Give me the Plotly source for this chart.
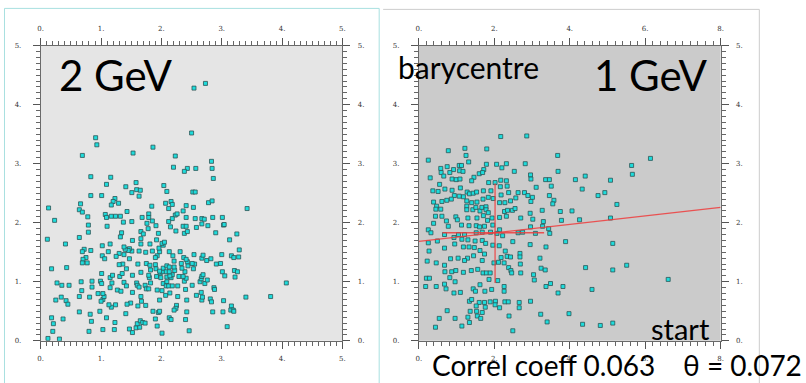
import plotly.graph_objects as go

W, H = 806, 383

# ---------------- data: 2 GeV panel ----------------
left_x = [
    2.54, 2.73, 2.50, 0.91, 0.93, 0.69, 1.53, 1.86, 2.23, 2.83,
    2.20, 2.43, 2.57, 2.38, 2.84, 0.83, 1.16, 2.86, 1.09, 1.58,
    1.41, 1.51, 1.59, 1.65, 1.63, 2.04, 2.09, 2.52, 2.56, 0.83,
    1.01, 1.23, 1.20, 1.29, 1.17, 0.66, 0.64, 0.69, 0.13, 0.23,
    0.11, 0.41, 0.18, 0.43, 0.27, 0.35, 0.47, 0.25, 0.34, 0.42,
    0.45, 0.18, 0.21, 0.20, 0.37, 0.12, 0.31, 1.84, 2.07, 2.16,
    2.18, 2.12, 2.41, 2.53, 2.78, 2.84, 3.42, 0.78, 0.79, 0.79,
    0.64, 1.07, 1.09, 1.17, 1.24, 1.32, 1.37, 1.43, 1.51, 1.10,
    1.68, 1.79, 1.79, 1.76, 1.78, 1.85, 1.91, 2.23, 2.26, 2.36,
    2.41, 2.18, 2.12, 2.15, 2.24, 2.36, 2.41, 2.38, 2.43, 2.58,
    2.56, 2.67, 2.71, 2.67, 2.77, 2.85, 3.01, 3.03, 3.04, 2.90,
    3.25, 3.13, 3.29, 3.00, 3.16, 3.20, 3.28, 2.91, 2.98, 3.21,
    3.26, 3.01, 3.05, 3.22, 4.07, 2.87, 2.88, 3.40, 3.81, 3.03,
    3.16, 3.15, 3.19, 3.20, 3.02, 2.85, 3.09, 2.81, 2.83, 2.67,
    2.68, 2.58, 2.66, 2.42, 2.27, 2.25, 2.24, 2.21, 2.42, 2.40,
    2.46, 2.13, 2.16, 2.01, 1.93, 1.90, 1.86, 1.95, 1.97, 1.97,
    2.07, 2.14, 1.74, 1.67, 1.66, 1.61, 1.52, 1.49, 1.43, 1.41,
    1.24, 1.17, 1.13, 1.03, 1.00, 1.05, 1.03, 0.95, 0.81, 0.64,
    0.64, 0.98, 0.82, 0.84, 0.80, 1.03, 1.22, 1.23, 1.09, 1.47,
    1.52, 1.58, 1.64, 1.60, 1.65, 1.69, 1.73, 0.67, 0.68, 0.85,
    0.85, 0.99, 1.01, 1.01, 1.15, 1.18, 1.15, 1.27, 1.33, 1.38,
    1.42, 1.31, 1.35, 1.52, 1.59, 1.60, 1.63, 1.73, 1.75, 1.79,
    1.82, 1.80, 1.79, 1.66, 1.92, 1.93, 2.01, 2.03, 1.99, 1.98,
    2.02, 2.03, 2.09, 2.08, 2.09, 2.09, 2.08, 2.12, 2.16, 2.18,
    2.18, 2.14, 2.22, 2.29, 2.27, 2.38, 2.41, 2.40, 2.39, 2.34,
    2.44, 2.43, 2.55, 2.53, 2.51, 2.64, 2.66, 2.67, 2.69, 2.72,
    2.76, 2.54, 2.67, 2.69, 2.75, 2.82, 2.31, 2.19, 2.21, 2.37,
    2.41, 2.33, 2.13, 1.97, 1.93, 1.90, 1.85, 1.96, 2.03, 2.01,
    2.05, 1.92, 1.95, 1.81, 1.66, 1.70, 1.66, 1.66, 1.52, 1.51,
    1.47, 1.45, 1.40, 1.38, 1.30, 1.25, 1.38, 1.47, 1.63, 1.74,
    1.34, 1.32, 1.15, 1.02, 1.12, 1.02, 1.06, 0.72, 0.69, 0.83,
    0.75, 0.70, 0.69, 0.77, 1.36, 1.42, 1.30, 1.19, 1.61, 1.75,
    1.81, 1.90, 1.91, 1.82, 1.97, 2.13, 2.13, 2.21, 2.36, 2.51,
]
left_y = [
    4.28, 4.36, 3.52, 3.44, 3.32, 3.14, 3.18, 3.28, 3.13, 3.04,
    2.94, 2.92, 2.92, 2.87, 2.92, 2.78, 2.77, 2.75, 2.65, 2.68,
    2.61, 2.51, 2.56, 2.55, 2.45, 2.63, 2.53, 2.52, 2.52, 2.46,
    2.46, 2.41, 2.36, 2.33, 2.30, 2.32, 2.22, 2.18, 2.25, 2.04,
    1.72, 1.64, 1.22, 1.24, 0.98, 0.94, 0.94, 0.69, 0.74, 0.68,
    0.62, 0.39, 0.29, 0.16, 0.37, 0.04, 0.03, 2.28, 2.33, 2.36,
    2.31, 2.24, 2.29, 2.26, 2.34, 2.37, 2.24, 2.10, 1.96, 1.84,
    1.75, 2.14, 2.09, 2.11, 2.11, 2.11, 2.01, 2.19, 2.02, 1.94,
    2.09, 2.15, 2.09, 1.99, 1.90, 2.03, 1.95, 2.13, 2.15, 2.20,
    2.09, 2.07, 2.02, 1.93, 1.86, 1.94, 1.94, 1.82, 1.85, 1.92,
    2.07, 2.07, 2.06, 1.98, 1.95, 2.09, 2.09, 1.96, 1.97, 1.83,
    1.81, 1.71, 1.54, 1.46, 1.44, 1.41, 1.42, 1.30, 1.31, 1.19,
    1.17, 1.17, 1.10, 1.08, 0.98, 0.90, 0.87, 0.74, 0.75, 0.68,
    0.59, 0.52, 0.52, 0.50, 0.49, 0.49, 0.24, 0.71, 0.66, 0.69,
    0.74, 0.77, 0.82, 0.69, 0.75, 0.60, 0.55, 0.52, 0.49, 0.36,
    0.17, 0.39, 0.36, 0.13, 0.25, 0.37, 0.50, 0.48, 0.50, 0.69,
    0.77, 0.81, 0.60, 0.67, 0.75, 0.59, 0.82, 0.64, 0.62, 0.46,
    0.61, 0.57, 0.61, 0.70, 0.67, 0.75, 0.80, 0.80, 0.74, 0.75,
    0.49, 0.50, 0.45, 0.33, 0.16, 0.19, 0.19, 0.31, 0.39, 0.20,
    0.14, 0.22, 0.23, 0.29, 0.34, 0.31, 0.30, 1.00, 0.85, 1.01,
    0.91, 1.01, 0.97, 1.14, 1.07, 0.98, 0.90, 0.86, 0.84, 0.99,
    0.93, 1.09, 1.14, 1.11, 0.98, 0.94, 0.91, 0.94, 0.88, 0.88,
    0.98, 1.07, 1.11, 1.16, 1.09, 0.86, 0.85, 0.97, 1.07, 1.15,
    1.17, 1.23, 1.27, 1.17, 1.08, 1.00, 0.93, 0.93, 1.07, 1.12,
    0.93, 1.10, 1.19, 1.09, 0.93, 1.01, 1.06, 0.87, 1.17, 1.23,
    1.27, 1.34, 1.30, 1.22, 0.94, 1.00, 1.05, 1.09, 1.12, 0.97,
    1.03, 1.46, 1.40, 1.45, 1.36, 1.39, 1.51, 1.44, 1.35, 1.41,
    1.38, 1.31, 1.51, 1.51, 1.44, 1.41, 1.52, 1.57, 1.62, 1.65,
    1.67, 1.71, 1.82, 1.64, 1.85, 1.81, 1.73, 1.64, 1.70, 1.52,
    1.56, 1.53, 1.55, 1.59, 1.48, 1.43, 1.46, 1.39, 1.52, 1.50,
    1.83, 1.76, 1.64, 1.61, 1.51, 1.44, 1.39, 1.55, 1.51, 1.53,
    1.41, 1.38, 1.32, 1.32, 1.30, 1.22, 1.29, 1.11, 1.30, 1.31,
    1.28, 1.29, 1.22, 1.20, 1.18, 1.17, 1.25, 1.25, 1.09, 1.31,
]

# ---------------- data: 1 GeV panel ----------------
right_x = [
    2.17, 2.86, 1.22, 0.78, 1.25, 1.80, 3.68, 6.14, 0.25, 1.32,
    1.79, 2.06, 2.32, 2.82, 5.64, 0.58, 0.75, 0.92, 1.07, 1.13,
    1.08, 1.17, 0.59, 0.82, 0.66, 0.88, 0.99, 1.09, 0.30, 1.46,
    1.40, 1.60, 1.72, 1.69, 2.20, 2.53, 2.96, 2.97, 3.69, 5.66,
    2.02, 2.17, 2.32, 2.34, 2.16, 1.85, 3.36, 3.46, 3.51, 4.15,
    4.41, 5.08, 4.33, 4.93, 4.75, 5.25, 0.55, 0.69, 0.88, 1.10,
    0.37, 0.51, 1.28, 1.34, 1.44, 1.53, 1.71, 1.91, 2.18, 2.38,
    2.63, 2.80, 2.89, 3.11, 3.46, 3.58, 3.55, 3.01, 2.97, 2.57,
    2.43, 2.28, 2.14, 1.97, 1.84, 1.70, 1.54, 1.40, 1.27, 1.18,
    1.07, 0.94, 0.86, 0.74, 0.61, 0.39, 0.47, 0.45, 0.58, 0.44,
    0.61, 0.73, 0.39, 0.25, 0.32, 0.78, 0.98, 1.02, 1.13, 1.27,
    1.27, 1.43, 1.51, 1.62, 1.67, 1.78, 1.78, 1.84, 1.71, 1.54,
    1.30, 1.33, 1.52, 1.61, 1.74, 1.82, 1.94, 1.96, 2.14, 2.27,
    2.35, 2.32, 2.48, 2.55, 2.70, 2.95, 3.02, 2.96, 3.27, 3.30,
    3.28, 3.44, 3.75, 4.06, 3.78, 4.26, 5.08, 3.47, 3.09, 2.63,
    2.75, 2.14, 2.07, 2.22, 1.90, 1.68, 1.52, 1.21, 1.05, 0.68,
    0.93, 1.14, 1.30, 1.49, 1.68, 1.77, 1.96, 2.13, 2.49, 2.95,
    3.37, 3.89, 5.14, 0.25, 0.27, 0.49, 0.68, 0.95, 1.18, 1.33,
    1.47, 1.62, 1.74, 1.68, 1.45, 1.29, 1.21, 1.04, 0.84, 0.68,
    0.46, 0.22, 0.69, 0.87, 0.98, 1.18, 1.39, 1.56, 1.70, 1.79,
    1.89, 1.99, 2.11, 2.26, 2.18, 2.29, 2.34, 2.43, 2.38, 2.44,
    2.46, 2.68, 2.68, 2.69, 2.70, 3.21, 3.24, 3.35, 3.04, 3.06,
    4.42, 5.51, 5.14, 6.61, 0.20, 0.28, 0.18, 0.46, 0.82, 0.96,
    0.68, 0.72, 0.93, 1.10, 1.44, 1.50, 1.62, 1.75, 1.93, 2.26,
    2.26, 2.09, 1.86, 3.37, 3.49, 3.82, 3.69, 4.59, 1.34, 1.40,
    1.60, 1.74, 1.89, 2.03, 2.28, 2.37, 2.66, 2.66, 2.96, 2.14,
    2.02, 1.52, 1.76, 1.36, 1.53, 1.68, 1.55, 1.64, 0.75, 0.54,
    0.96, 1.30, 1.14, 0.44, 2.39, 2.49, 3.23, 3.40, 3.98, 4.34,
    4.81, 5.14, 1.34,
]
right_y = [
    3.46, 3.47, 3.26, 3.22, 3.14, 3.25, 3.14, 3.09, 3.06, 3.03,
    2.99, 2.99, 3.00, 3.00, 2.97, 2.92, 2.95, 2.90, 2.97, 2.97,
    2.88, 2.87, 2.85, 2.85, 2.79, 2.74, 2.73, 2.74, 2.76, 2.77,
    2.71, 2.83, 2.90, 2.85, 2.93, 2.87, 2.81, 2.74, 2.87, 2.82,
    2.68, 2.72, 2.71, 2.62, 2.61, 2.68, 2.73, 2.73, 2.62, 2.73,
    2.79, 2.72, 2.57, 2.51, 2.46, 2.31, 2.65, 2.57, 2.55, 2.59,
    2.54, 2.53, 2.52, 2.49, 2.50, 2.52, 2.54, 2.54, 2.47, 2.51,
    2.51, 2.51, 2.46, 2.60, 2.46, 2.38, 2.32, 2.43, 2.36, 2.42,
    2.37, 2.34, 2.34, 2.41, 2.43, 2.40, 2.35, 2.34, 2.37, 2.44,
    2.45, 2.46, 2.40, 2.38, 2.36, 2.35, 2.28, 2.23, 2.23, 2.11,
    2.11, 2.03, 1.99, 1.88, 1.83, 1.94, 2.10, 2.05, 1.96, 2.28,
    2.22, 2.22, 2.26, 2.20, 2.26, 2.27, 2.22, 2.17, 2.12, 2.08,
    2.08, 1.95, 1.95, 1.93, 1.94, 2.04, 2.08, 1.96, 2.09, 2.19,
    2.21, 2.11, 2.21, 2.24, 2.08, 2.16, 2.06, 1.93, 2.21, 2.02,
    1.94, 1.90, 2.19, 2.20, 2.04, 2.05, 2.08, 1.82, 1.82, 1.83,
    1.84, 1.88, 1.82, 1.78, 1.84, 1.84, 1.83, 1.80, 1.80, 1.80,
    1.75, 1.72, 1.71, 1.69, 1.70, 1.65, 1.62, 1.61, 1.68, 1.63,
    1.59, 1.68, 1.65, 1.66, 1.52, 1.69, 1.57, 1.64, 1.59, 1.59,
    1.58, 1.53, 1.47, 1.36, 1.44, 1.40, 1.36, 1.40, 1.39, 1.28,
    1.32, 1.35, 1.17, 1.17, 1.19, 1.16, 1.19, 1.21, 1.15, 1.15,
    1.15, 1.32, 1.33, 1.32, 1.41, 1.52, 1.43, 1.42, 1.24, 1.19,
    1.15, 1.48, 1.42, 1.30, 1.15, 1.40, 1.23, 1.20, 1.12, 1.03,
    1.24, 1.28, 1.20, 1.04, 1.06, 1.06, 0.92, 0.92, 1.07, 1.00,
    0.96, 0.88, 0.81, 0.82, 0.88, 0.84, 0.95, 0.84, 0.87, 0.84,
    0.92, 1.02, 1.04, 0.92, 0.97, 0.92, 0.81, 0.87, 0.67, 0.70,
    0.65, 0.65, 0.66, 0.67, 0.66, 0.66, 0.65, 0.56, 0.67, 0.56,
    0.61, 0.59, 0.57, 0.50, 0.50, 0.48, 0.42, 0.38, 0.51, 0.38,
    0.38, 0.40, 0.25, 0.23, 0.42, 0.17, 0.45, 0.32, 0.46, 0.28,
    0.26, 0.30, 0.31,
]

# principal-axis line and barycentre cross (1 GeV panel)
fit_x = [0.0, 8.0]
fit_y = [1.684, 2.261]
cross_v_x = [2.02, 2.02]
cross_v_y = [0.98, 2.67]
cross_h_x = [0.63, 3.32]
cross_h_y = [1.83, 1.83]

# tick values / labels
left_xticks = [0, 1, 2, 3, 4, 5]
right_xticks = [0, 2, 4, 6, 8]
yticks = [0, 1, 2, 3, 4, 5]
left_xlabels = ["0.", "1.", "2.", "3.", "4.", "5."]
right_xlabels = ["0.", "2.", "4.", "6.", "8."]
ylabels = ["0.", "1.", "2.", "3.", "4.", "5."]

# ---------------- layout helpers ----------------
def px_x(p):
    return p / W

def px_y(p):
    return 1 - p / H

L_DOM = [px_x(38), px_x(342)]
R_DOM = [px_x(419), px_x(723)]
Y_DOM = [px_y(344), px_y(42.5)]

TICKFONT = dict(family="DejaVu Serif", size=7, color="#333")

def axis(domain, rng, tickvals, ticktext, minor_dtick, **kw):
    d = dict(
        domain=domain, range=rng, tickmode="array", tickvals=tickvals,
        ticktext=ticktext, showline=True, linecolor="#6a6a6a", linewidth=1,
        ticks="outside", ticklen=7, tickwidth=1, tickcolor="#555",
        showgrid=False, zeroline=False, tickfont=TICKFONT,
        minor=dict(ticks="outside", ticklen=4, tickwidth=1, tickcolor="#666",
                   dtick=minor_dtick, tick0=0, showgrid=False),
        fixedrange=True,
    )
    d.update(kw)
    return d

MARKER = dict(symbol="square", size=4, color="#1edcdc",
              line=dict(color="#2c5656", width=0.8))

fig = go.Figure()

# left panel
fig.add_trace(go.Scatter(x=left_x, y=left_y, mode="markers", marker=MARKER,
                         xaxis="x", yaxis="y", hoverinfo="skip", showlegend=False))
fig.add_trace(go.Scatter(x=left_x, y=left_y, mode="markers",
                         marker=dict(opacity=0), xaxis="x2", yaxis="y2",
                         hoverinfo="skip", showlegend=False))
# right panel
fig.add_trace(go.Scatter(x=right_x, y=right_y, mode="markers", marker=MARKER,
                         xaxis="x3", yaxis="y3", hoverinfo="skip", showlegend=False))
fig.add_trace(go.Scatter(x=right_x, y=right_y, mode="markers",
                         marker=dict(opacity=0), xaxis="x4", yaxis="y4",
                         hoverinfo="skip", showlegend=False))
RED = "rgba(238,60,60,0.85)"
fig.add_trace(go.Scatter(x=fit_x, y=fit_y, mode="lines", line=dict(color=RED, width=1.3),
                         xaxis="x3", yaxis="y3", hoverinfo="skip", showlegend=False))
fig.add_trace(go.Scatter(x=cross_v_x, y=cross_v_y, mode="lines", line=dict(color=RED, width=1.3),
                         xaxis="x3", yaxis="y3", hoverinfo="skip", showlegend=False))
fig.add_trace(go.Scatter(x=cross_h_x, y=cross_h_y, mode="lines", line=dict(color=RED, width=1.3),
                         xaxis="x3", yaxis="y3", hoverinfo="skip", showlegend=False))

fig.update_layout(
    width=W, height=H, margin=dict(l=0, r=0, t=0, b=0),
    paper_bgcolor="white", plot_bgcolor="rgba(0,0,0,0)",
    xaxis=axis(L_DOM, [0, 5], left_xticks, left_xlabels, 0.1, anchor="y", side="bottom", ticklabelstandoff=4),
    yaxis=axis(Y_DOM, [0, 5], yticks, ylabels, 0.1, anchor="x", side="left", ticklabelstandoff=10),
    xaxis2=axis(L_DOM, [0, 5], left_xticks, left_xlabels, 0.1, anchor="y", side="top", overlaying="x", ticklabelstandoff=4),
    yaxis2=axis(Y_DOM, [0, 5], yticks, ylabels, 0.1, anchor="x", side="right", overlaying="y", ticklabelstandoff=6),
    xaxis3=axis(R_DOM, [0, 8], right_xticks, right_xlabels, 0.2, anchor="y3", side="bottom", ticklabelstandoff=4),
    yaxis3=axis(Y_DOM, [0, 5], yticks, ylabels, 0.1, anchor="x3", side="left", ticklabelstandoff=10),
    xaxis4=axis(R_DOM, [0, 8], right_xticks, right_xlabels, 0.2, anchor="y3", side="top", overlaying="x3", ticklabelstandoff=4),
    yaxis4=axis(Y_DOM, [0, 5], yticks, ylabels, 0.1, anchor="x3", side="right", overlaying="y3", ticklabelstandoff=6),
)

shapes = [
    dict(type="rect", xref="x domain", yref="y domain", x0=0, x1=1, y0=0, y1=1,
         fillcolor="#e5e5e5", line=dict(width=0), layer="below"),
    dict(type="rect", xref="x3 domain", yref="y3 domain", x0=0, x1=1, y0=0, y1=1,
         fillcolor="#cbcbcb", line=dict(width=0), layer="below"),
    # screenshot frames
    dict(type="rect", xref="paper", yref="paper", x0=px_x(1.5), x1=px_x(379), y0=px_y(395), y1=px_y(4.5),
         line=dict(color="#a8e0e0", width=1), fillcolor="rgba(0,0,0,0)", layer="below"),
    dict(type="line", xref="paper", yref="paper", x0=px_x(383), x1=px_x(762), y0=px_y(5.5), y1=px_y(5.5),
         line=dict(color="#cccccc", width=1)),
    dict(type="line", xref="paper", yref="paper", x0=px_x(762), x1=px_x(762), y0=px_y(5.5), y1=px_y(395),
         line=dict(color="#cccccc", width=1)),
]
fig.update_layout(shapes=shapes)

FONT = "Lato"
def note(text, x, y, size):
    return dict(text=text, x=px_x(x), y=px_y(y), xref="paper", yref="paper",
                xanchor="left", yanchor="middle", showarrow=False,
                font=dict(family=FONT, size=size, color="black"))

fig.update_layout(annotations=[
    note("2 GeV", 54, 73, 42),
    note("1 GeV", 593, 73, 42),
    note("barycentre", 396, 64, 30),
    note("start", 651, 331, 29),
    note("Correl coeff 0.063", 430, 369, 28),
    note("θ = 0.072", 683, 369, 28),
])

fig.write_html("out.html")
